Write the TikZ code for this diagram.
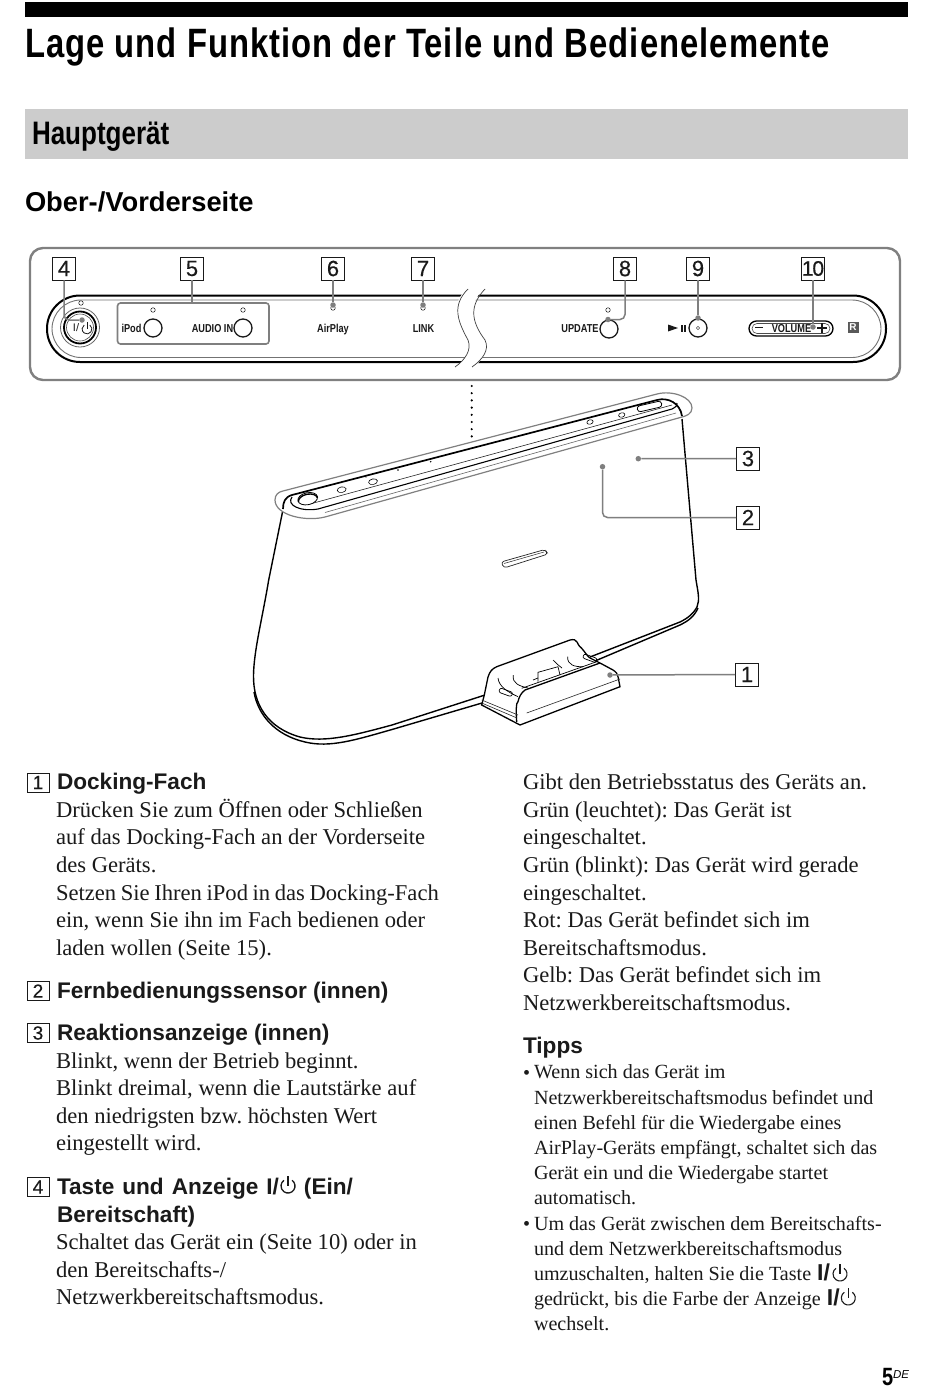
\documentclass[tikz,border=0pt]{standalone}
\usepackage{fontspec}
\setmainfont{Liberation Serif}
\setsansfont{Liberation Sans}
\newfontfamily\condf[FakeStretch=0.80]{Liberation Sans}
\newfontfamily\titlef[FakeStretch=0.80,LetterSpace=2.5]{Liberation Sans}
\newfontfamily\numf[FakeBold=0.3]{Liberation Sans}
\definecolor{lead}{HTML}{7F7F7F}
\definecolor{ink}{HTML}{1A1A1A}
\newcommand{\tipkey}{{\sffamily\bfseries\fontsize{23}{25.2}\selectfont I/}}
\tikzset{
 txt/.style={inner sep=0pt,outer sep=0pt,anchor=north west,align=left,text=ink},
 body/.style={txt,font=\rmfamily\fontsize{22.6}{27.6}\selectfont\frenchspacing},
 small/.style={txt,font=\rmfamily\fontsize{20.1}{25.2}\selectfont\frenchspacing},
 head/.style={txt,font=\sffamily\bfseries\fontsize{22.6}{28}\selectfont},
 numbox/.style={draw=ink,line width=0.9pt,minimum width=23pt,minimum height=23pt,inner sep=0pt,font=\numf\fontsize{22}{22}\selectfont,text=ink},
 listbox/.style={draw=ink,line width=1pt,minimum width=22pt,minimum height=19pt,inner sep=0pt,font=\numf\fontsize{19}{19}\selectfont,text=ink},
 leader/.style={draw=lead,line width=1.5pt,rounded corners=5pt},
 ldot/.style={circle,fill=lead,minimum size=5.5pt,inner sep=0pt},
 led/.style={circle,draw=ink,line width=0.5pt,minimum size=4.5pt,inner sep=0pt},
 btn/.style={circle,draw=ink,line width=1.3pt,minimum size=18pt,inner sep=0pt},
 plabel/.style={inner sep=0pt,anchor=base,font=\condf\bfseries\fontsize{11.5}{12}\selectfont,text=ink},
 devline/.style={draw=black,line width=1.4pt},
 thinline/.style={draw=black!85,line width=0.6pt},
 grayline/.style={draw=black!50,line width=1.2pt},
 pics/pwr/.style={code={
   \draw[line width=#1,ink] (0,0) ++(305:7) arc[start angle=305,end angle=595,radius=7];
   \draw[line width=#1,ink] (0,-10) -- (0,0);}},
}
\begin{document}
\begin{tikzpicture}[x=1pt,y=-1pt]
\useasboundingbox (0,0) rectangle (950,1389);
\fill[white] (0,0) rectangle (950,1389);
% header
\fill[black] (25,2) rectangle (908,17);
\node[txt,anchor=base west,text=black,font=\titlef\bfseries\fontsize{41}{41}\selectfont] (title) at (25,58) {Lage und Funktion der Teile und Bedienelemente};
\fill[black!20] (25,109) rectangle (908,159);
\node[txt,anchor=base west,text=black,font=\condf\bfseries\fontsize{32.5}{33}\selectfont] (haupt) at (32,144) {Hauptgerät};
\node[txt,anchor=base west,text=black,font=\sffamily\bfseries\fontsize{27.3}{28}\selectfont] (ober) at (25,211) {Ober-/Vorderseite};
% panel
\draw[black!50,line width=2.4pt,rounded corners=13pt] (30,248) rectangle (900,380);
\draw[black,line width=2pt,rounded corners=33pt] (47,295.5) rectangle (886,362);
\draw[black!55,line width=0.9pt,rounded corners=29pt] (52,300) rectangle (881,357.5);
% panel break
\fill[white] (468,287) .. controls (450,305) and (455,320) .. (468,340) .. controls (472,350) and (465,360) .. (454,369)
 -- (472,369) .. controls (482,360) and (490,350) .. (485,340) .. controls (470,318) and (468,305) .. (485,287) -- cycle;
\draw[black!75,line width=0.7pt] (468,289) .. controls (452,305) and (457,320) .. (468,340) .. controls (472,350) and (465,360) .. (455,367);
\draw[black!75,line width=0.7pt] (485,289) .. controls (470,305) and (470,320) .. (485,340) .. controls (490,350) and (482,360) .. (472,367);
% power button
\draw[black!60,line width=0.8pt] (80,327.5) circle[radius=19.5];
\draw[black,line width=1.8pt] (80,327.5) circle[radius=16];
\draw[black!70,line width=0.6pt] (80,327.5) circle[radius=13.5];
\node[led] (ledp) at (81,303) {};
\node[inner sep=0pt,font=\sffamily\fontsize{11}{11}\selectfont,text=ink] (pwrtxt) at (76,328) {I/};
\pic[scale=0.7] at (87,329) {pwr=0.8pt};
% group box
\draw[lead,line width=1.6pt,rounded corners=3pt] (117.5,303) rectangle (269,344);
\node[led] (ledi) at (153,310) {};
\node[led] (leda) at (243,310) {};
\node[led] (ledair) at (333,308) {};
\node[led] (ledlink) at (423,308) {};
\node[led] (ledu) at (608,310) {};
\node[btn] (bi) at (153,328) {};
\node[btn] (ba) at (243,328) {};
\node[btn] (bu) at (609,329) {};
\node[btn] (bp) at (698,328) {};
\fill[white] (698,328) circle[radius=1.4]; \draw[ink,line width=0.4pt] (698,328) circle[radius=1.6];
\node[plabel] (tipod) at (131.5,332) {iPod};
\node[plabel] (taudio) at (212.5,332) {AUDIO IN};
\node[plabel] (tair) at (333,332) {AirPlay};
\node[plabel] (tlink) at (423.5,332) {LINK};
\node[plabel] (tupd) at (580,332.5) {UPDATE};
\fill[ink] (668,324.5) -- (678,328) -- (668,331.5) -- cycle;
\fill[ink] (681,324.5) rectangle (682.6,331.5);
\fill[ink] (684,324.5) rectangle (685.6,331.5);
\draw[black,line width=1.3pt,rounded corners=7.5pt] (749,321) rectangle (833,336);
\draw[black!70,line width=0.6pt,rounded corners=5pt] (752,323.5) rectangle (830,333.5);
\node[inner sep=0pt,font=\sffamily\bfseries\fontsize{14}{14}\selectfont,text=ink] (minus) at (759,327.5) {\rule{8pt}{1.3pt}};
\node[plabel] (tvol) at (791.5,332) {VOLUME};
\draw[ink,line width=1.3pt] (817,328) -- (827,328) (822,323) -- (822,333);
\node[fill=black!65,inner sep=0pt,minimum size=11pt,text=white,font=\sffamily\bfseries\fontsize{10}{10}\selectfont] (rbox) at (853,327.5) {R};
% number boxes
\node[numbox] (b4) at (64,268.5) {4};
\node[numbox] (b5) at (192,268.5) {5};
\node[numbox] (b6) at (333,268.5) {6};
\node[numbox] (b7) at (423,268.5) {7};
\node[numbox] (b8) at (625,268.5) {8};
\node[numbox] (b9) at (698,268.5) {9};
\node[numbox] (b10) at (813,268.5) {\fontsize{21}{21}\selectfont 1\kern-1.2pt 0};
\node[numbox] (b3) at (748,458.5) {3};
\node[numbox] (b2) at (748,517.5) {2};
\node[numbox] (b1) at (747,674.5) {1};
% dots of panel leaders
\node[ldot] (d4) at (82,320) {};
\coordinate (d5) at (192,303);
\node[ldot] (d6) at (333,305) {};
\node[ldot] (d7) at (423,305) {};
\node[ldot] (d8) at (608,319.5) {};
\node[ldot] (d9) at (698,318) {};
\node[ldot] (d10) at (813,327) {};
\draw[leader] (b4.south) |- (d4);
\draw[leader] (b5.south) -- (d5);
\draw[leader] (b6.south) -- (d6);
\draw[leader] (b7.south) -- (d7);
\draw[leader] (b8.south) |- (d8);
\draw[leader] (b9.south) -- (d9);
\draw[leader] (b10.south) -- (d10);
% dotted link
\foreach \i in {0,...,7} \fill[black] (471.7,386+\i*7.2) circle[radius=1.2];
% device body
\draw[devline] (282.5,512) -- (268.7,580) .. controls (262,620) and (254,650) .. (253.5,675) .. controls (253,705) and (268,728) .. (300,737) .. controls (325,743) and (355,735) .. (392,725) -- (485,695);
\draw[devline] (254,692) .. controls (258,715) and (275,735) .. (305,742) .. controls (330,748) and (355,740) .. (392,729.5) -- (482,703);
\draw[devline] (682,419) -- (696,580) .. controls (698,592) and (700,600) .. (697,607) .. controls (693,614) and (688,618) .. (680,622) -- (590,657);
\draw[devline] (698,608) .. controls (694,617) and (688,621) .. (680,625) -- (595,661);
% top bar
\draw[grayline,fill=white] (283,491) -- (657,394) .. controls (672,390) and (692,397) .. (692,408) .. controls (692,414) and (686,416) .. (682,417) -- (325,517) .. controls (305,522) and (275,515) .. (275,500) .. controls (275,495) and (278,492) .. (283,491) -- cycle;
\draw[black,line width=1.7pt] (283,509) .. controls (283,502) and (285,497) .. (292,495) -- (657,400) .. controls (668,397) and (680,403) .. (682,416);
\draw[black,line width=1.1pt] (292,497) .. controls (286,505) and (300,512) .. (318,509) -- (672,409) .. controls (676,407) and (678,405) .. (677,403);
\draw[thinline] (310,504) -- (672,405);
\draw[thinline,black!60] (325,512.5) -- (676,413);
% top details
\draw[black,line width=0.8pt,fill=white,rotate around={12:(307.7,498.7)}] (307.7,498.7) ellipse[x radius=10,y radius=6];
\draw[black,line width=1.4pt,rotate around={12:(307.7,498.7)}] (298,500) arc[start angle=180,end angle=0,x radius=9.7,y radius=-5.8];
\draw[black,line width=0.6pt,fill=white,rotate around={12:(341.7,489.7)}] (341.7,489.7) ellipse[x radius=4.5,y radius=2.8];
\draw[black,line width=0.6pt,fill=white,rotate around={12:(373,481.7)}] (373,481.7) ellipse[x radius=4.5,y radius=2.8];
\fill[black] (398,470) circle[radius=0.8] (430.7,461.7) circle[radius=0.8] (335,484) circle[radius=0.6] (366,477) circle[radius=0.6];
\draw[black,line width=0.6pt,fill=white,rotate around={14:(590,422)}] (590,422) ellipse[x radius=3.2,y radius=2.2];
\draw[black,line width=0.6pt,fill=white,rotate around={14:(621.7,415)}] (621.7,415) ellipse[x radius=3.2,y radius=2.2];
\draw[black,line width=0.8pt,fill=white,rounded corners=3pt,rotate around={13:(649.5,406.5)}] (637,403.5) rectangle (662,409.5);
% front slot
\draw[black!85,line width=0.7pt,rounded corners=3pt] (501,562) -- (545,549.5) -- (548,554) -- (504,568) -- cycle;
\draw[black!85,line width=0.5pt] (504,563.5) -- (544,552);
% dock
\draw[black,line width=1.3pt,fill=white] (484.3,695) -- (488,677) .. controls (490,671) and (492,669) .. (496.7,666.7) -- (570,640) .. controls (574,639) and (576,640) .. (577,642) .. controls (579,646) and (580,647) .. (581.7,648.3) .. controls (585,652) and (587,656) .. (590,658) -- (600,663) -- (613,670) .. controls (616,672) and (618,674) .. (618,676.7) -- (620,686.7) -- (520,725) -- (481.7,705) -- cycle;
\draw[black,line width=1.3pt] (516.7,722) .. controls (516,712) and (516,702) .. (518,701.7) .. controls (519,697) and (521,693) .. (525,690) -- (600,663);
\draw[black,line width=0.7pt] (521.7,688.3) -- (596.7,661.7);
\draw[thinline] (526.7,713) -- (620,679);
\draw[thinline] (481.7,700) -- (518,715);
\draw[thinline] (481.7,703) -- (517,718);
\draw[black,line width=0.7pt,fill=white,rounded corners=2pt,rotate around={-20:(505.7,692.3)}] (499,690) rectangle (512.5,694.6);
\draw[black,line width=0.7pt] (538,681.7) -- (538,672.3) -- (558,666.7) -- (560,675);
\draw[black,line width=0.7pt] (533,680) -- (538,678);
\draw[black,line width=0.7pt] (498,678) .. controls (499,687) and (508,692) .. (518,696.7);
\draw[black,line width=0.7pt] (513.3,675) .. controls (512,684) and (520,686) .. (528,688);
\draw[black,line width=0.7pt] (567.7,656.7) .. controls (567,665) and (575,667) .. (583,666.7);
\draw[black,line width=0.7pt] (553,660) .. controls (557,664) and (559,666) .. (562,668);
\draw[black,line width=0.7pt,rounded corners=2pt,rotate around={-20:(590,658)}] (583,656) rectangle (597,660.5);
% device leaders
\node[ldot] (d3) at (638.3,458.7) {};
\node[ldot] (d2) at (602.5,466.7) {};
\node[ldot] (d1) at (610,675) {};
\draw[leader] (d3) -- (b3.west);
\draw[leader] (d2) |- (b2.west);
\draw[leader] (d1) -- (b1.west);
% left column
\node[listbox] (l1) at (38,782.5) {1};
\node[head] (h1) at (57,773) {Docking-Fach};
\node[body] (t1) at (56,799) {Drücken Sie zum Öffnen oder Schließen\\auf das Docking-Fach an der Vorderseite\\des Geräts.\\{\spaceskip=4.6pt Setzen Sie Ihren iPod in das Docking-Fach}\\ein, wenn Sie ihn im Fach bedienen oder\\laden wollen (Seite 15).};
\node[listbox] (l2) at (38,991) {2};
\node[head] (h2) at (57,982) {Fernbedienungssensor (innen)};
\node[listbox] (l3) at (38,1033) {3};
\node[head] (h3) at (57,1024) {Reaktionsanzeige (innen)};
\node[body] (t3) at (56,1052.5) {Blinkt, wenn der Betrieb beginnt.\\Blinkt dreimal, wenn die Lautstärke auf\\den niedrigsten bzw. höchsten Wert\\eingestellt wird.};
\node[listbox] (l4) at (38,1187) {4};
\node[head] (h4) at (57,1178.5) {{\spaceskip=8pt Taste und Anzeige I/}\hspace{25pt}(Ein/\\Bereitschaft)};
\pic at (288,1186) {pwr=1.3pt};
\node[body] (t4) at (56,1234) {Schaltet das Gerät ein (Seite 10) oder in\\den Bereitschafts-/\\Netzwerkbereitschaftsmodus.};
% right column
\node[body] (t5) at (523,774) {Gibt den Betriebsstatus des Geräts an.\\Grün (leuchtet): Das Gerät ist\\eingeschaltet.\\Grün (blinkt): Das Gerät wird gerade\\eingeschaltet.\\Rot: Das Gerät befindet sich im\\Bereitschaftsmodus.\\Gelb: Das Gerät befindet sich im\\Netzwerkbereitschaftsmodus.};
\node[head] (tips) at (523,1037.5) {Tipps};
\node[small,anchor=base west] (bul1) at (523,1079) {•};
\node[small] (s1) at (534,1065) {Wenn sich das Gerät im\\Netzwerkbereitschaftsmodus befindet und\\einen Befehl für die Wiedergabe eines\\AirPlay-Geräts empfängt, schaltet sich das\\Gerät ein und die Wiedergabe startet\\automatisch.};
\node[small,anchor=base west] (bul2) at (523,1230) {•};
\node[small] (s2) at (534,1216) {Um das Gerät zwischen dem Bereitschafts-\\und dem Netzwerkbereitschaftsmodus\\umzuschalten, halten Sie die Taste\hspace{1pt} \tipkey\\gedrückt, bis die Farbe der Anzeige\hspace{1pt} \tipkey\\wechselt.};
\pic at (840,1274) {pwr=1.1pt};
\pic at (848.3,1298) {pwr=1.1pt};
% page number
\node[txt,anchor=base west,text=black,font=\condf\bfseries\fontsize{25}{25}\selectfont] (pg) at (882,1385) {5};
\node[txt,anchor=base west,text=black,font=\sffamily\itshape\fontsize{11.5}{12}\selectfont] (pgde) at (893,1378) {DE};
\end{tikzpicture}
\end{document}
